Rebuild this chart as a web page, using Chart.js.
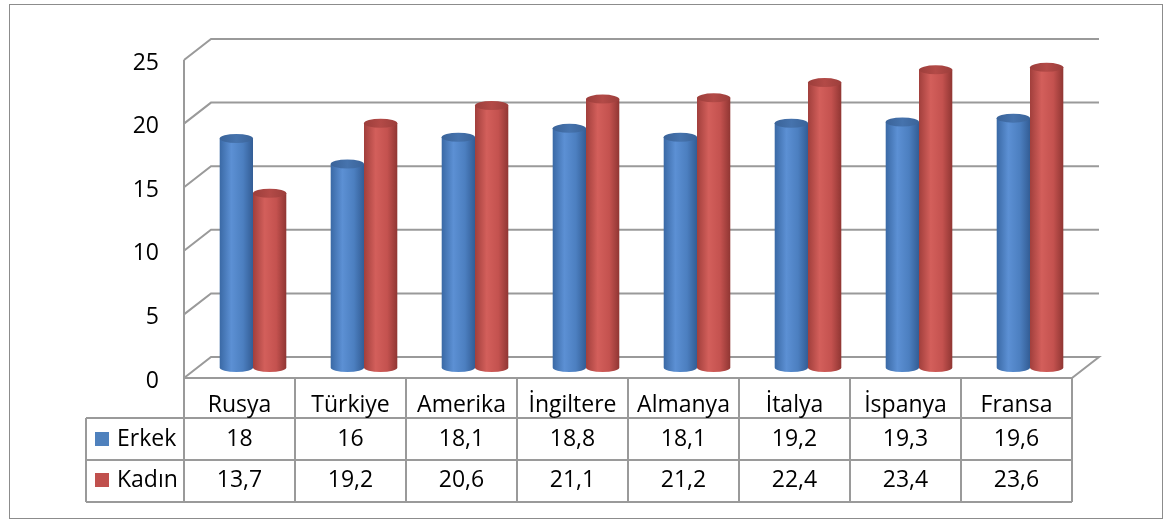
<!DOCTYPE html>
<html><head><meta charset="utf-8">
<script src="https://cdn.jsdelivr.net/npm/chart.js@4.4.1/dist/chart.umd.min.js"></script>
<style>html,body{margin:0;padding:0;background:#fff;}canvas{display:block;}</style>
</head><body>
<canvas id="c" width="1167" height="520"></canvas>
<script>
const categories = ['Rusya','Türkiye','Amerika','İngiltere','Almanya','İtalya','İspanya','Fransa'];
const erkek = [18, 16, 18.1, 18.8, 18.1, 19.2, 19.3, 19.6];
const kadin = [13.7, 19.2, 20.6, 21.1, 21.2, 22.4, 23.4, 23.6];
const seriesNames = ['Erkek', 'Kadın'];
const yTicks = [0, 5, 10, 15, 20, 25];

const FONT = '"Open Sans", sans-serif';
const FSIZE = 23;
const DX = 27, DY = -21;
const GRID = '#9a9a9a';
const PAL = [
  {base:'#4F81BD', edgeL:'#3a69a5', light:'#5c90d4', mid:'#4c7fc0', edgeR:'#335d95', cap:'#4673ad', capEdge:'#3a6399'},
  {base:'#C0504D', edgeL:'#a13f3c', light:'#d35f5b', mid:'#c4524f', edgeR:'#903633', cap:'#b34a47', capEdge:'#9c3e3b'}
];
const fmt = v => String(v).replace('.', ',');

function drawCylinder(ctx, cx, w, top, bottom, p) {
  const rx = w / 2, ry = 4.5, l = cx - rx, r = cx + rx;
  const g = ctx.createLinearGradient(l, 0, r, 0);
  g.addColorStop(0, p.edgeL);
  g.addColorStop(0.35, p.light);
  g.addColorStop(0.7, p.mid);
  g.addColorStop(1, p.edgeR);
  ctx.beginPath();
  ctx.moveTo(l, top);
  ctx.lineTo(l, bottom);
  ctx.ellipse(cx, bottom, rx, ry, 0, Math.PI, 0, true);
  ctx.lineTo(r, top);
  ctx.closePath();
  ctx.fillStyle = g;
  ctx.fill();
  const cg = ctx.createLinearGradient(l, 0, r, 0);
  cg.addColorStop(0, p.capEdge);
  cg.addColorStop(0.5, p.cap);
  cg.addColorStop(1, p.capEdge);
  ctx.beginPath();
  ctx.ellipse(cx, top, rx, ry, 0, 0, Math.PI * 2);
  ctx.fillStyle = cg;
  ctx.fill();
}

const threeD = {
  id: 'threeD',
  beforeDatasetsDraw(chart) {
    const {ctx, chartArea: a, scales: {y}} = chart;
    ctx.save();
    ctx.strokeStyle = GRID; ctx.lineWidth = 2; ctx.lineJoin = 'miter';
    yTicks.forEach(v => {
      const py = y.getPixelForValue(v);
      ctx.beginPath();
      ctx.moveTo(a.left, py);
      ctx.lineTo(a.left + DX, py + DY);
      ctx.lineTo(a.right + DX, py + DY);
      if (v === 0) ctx.lineTo(a.right, py);
      ctx.stroke();
    });
    ctx.beginPath();
    ctx.moveTo(a.left, y.getPixelForValue(yTicks[yTicks.length - 1]));
    ctx.lineTo(a.left, y.getPixelForValue(0));
    ctx.stroke();
    ctx.restore();
  },
  afterDatasetsDraw(chart) {
    const {ctx} = chart;
    ctx.save();
    const items = [];
    chart.data.datasets.forEach((ds, di) => {
      chart.getDatasetMeta(di).data.forEach(bar => items.push({bar, di}));
    });
    items.sort((a, b) => a.bar.x - b.bar.x);
    items.forEach(({bar, di}) => {
      drawCylinder(ctx, bar.x + DX / 2, bar.width, bar.y + DY / 2, bar.base + DY / 2, PAL[di]);
    });
    ctx.restore();
  },
  afterDraw(chart) {
    const {ctx, scales: {x, y}} = chart;
    ctx.save();
    const sp = x.getPixelForValue(1) - x.getPixelForValue(0);
    const bounds = categories.map((c, i) => x.getPixelForValue(i) - sp / 2);
    bounds.push(x.getPixelForValue(categories.length - 1) + sp / 2);
    const t0 = y.getPixelForValue(0);
    const rows = [t0, t0 + 40, t0 + 82, t0 + 124];
    const legL = 86;
    const L = bounds[0], R = bounds[bounds.length - 1];
    ctx.strokeStyle = GRID; ctx.lineWidth = 2;
    ctx.beginPath();
    ctx.moveTo(L, rows[0]); ctx.lineTo(R, rows[0]);
    for (let k = 1; k < 4; k++) { ctx.moveTo(legL, rows[k]); ctx.lineTo(R, rows[k]); }
    bounds.forEach(bx => { ctx.moveTo(bx, rows[0]); ctx.lineTo(bx, rows[3]); });
    ctx.moveTo(legL, rows[1]); ctx.lineTo(legL, rows[3]);
    ctx.stroke();

    ctx.fillStyle = '#000';
    ctx.font = FSIZE + 'px ' + FONT;
    ctx.textAlign = 'center';
    ctx.textBaseline = 'alphabetic';
    categories.forEach((c, i) => {
      const cx = x.getPixelForValue(i);
      ctx.fillText(c, cx, rows[0] + 34);
      ctx.fillText(fmt(erkek[i]), cx, rows[1] + 28);
      ctx.fillText(fmt(kadin[i]), cx, rows[2] + 27);
    });
    ctx.textAlign = 'left';
    seriesNames.forEach((n, k) => {
      const by = k === 0 ? rows[1] + 28 : rows[2] + 27;
      ctx.fillStyle = PAL[k].base;
      ctx.fillRect(95, by - 14, 14, 14);
      ctx.fillStyle = '#000';
      ctx.fillText(n, 117, by);
    });

    ctx.strokeStyle = '#8c8c8c'; ctx.lineWidth = 1;
    ctx.strokeRect(9.5, 4.5, 1153, 514);
    ctx.restore();
  }
};

new Chart(document.getElementById('c'), {
  type: 'bar',
  data: {
    labels: categories,
    datasets: [
      {label: seriesNames[0], data: erkek, backgroundColor: 'rgba(0,0,0,0)', borderWidth: 0},
      {label: seriesNames[1], data: kadin, backgroundColor: 'rgba(0,0,0,0)', borderWidth: 0}
    ]
  },
  options: {
    responsive: false,
    animation: false,
    events: [],
    layout: {padding: {left: 0, top: 60, right: 95, bottom: 142}},
    datasets: {bar: {barPercentage: 1, categoryPercentage: 0.6}},
    plugins: {legend: {display: false}, tooltip: {enabled: false}},
    scales: {
      x: {display: false, offset: true},
      y: {
        min: 0, max: 25,
        afterBuildTicks: s => { s.ticks = yTicks.map(v => ({value: v})); },
        ticks: {padding: 25, labelOffset: 3, color: '#000', font: {family: FONT, size: FSIZE}},
        grid: {display: false, drawTicks: false},
        border: {display: false},
        afterFit: s => { s.width = 184; }
      }
    }
  },
  plugins: [threeD]
});
</script>
</body></html>
